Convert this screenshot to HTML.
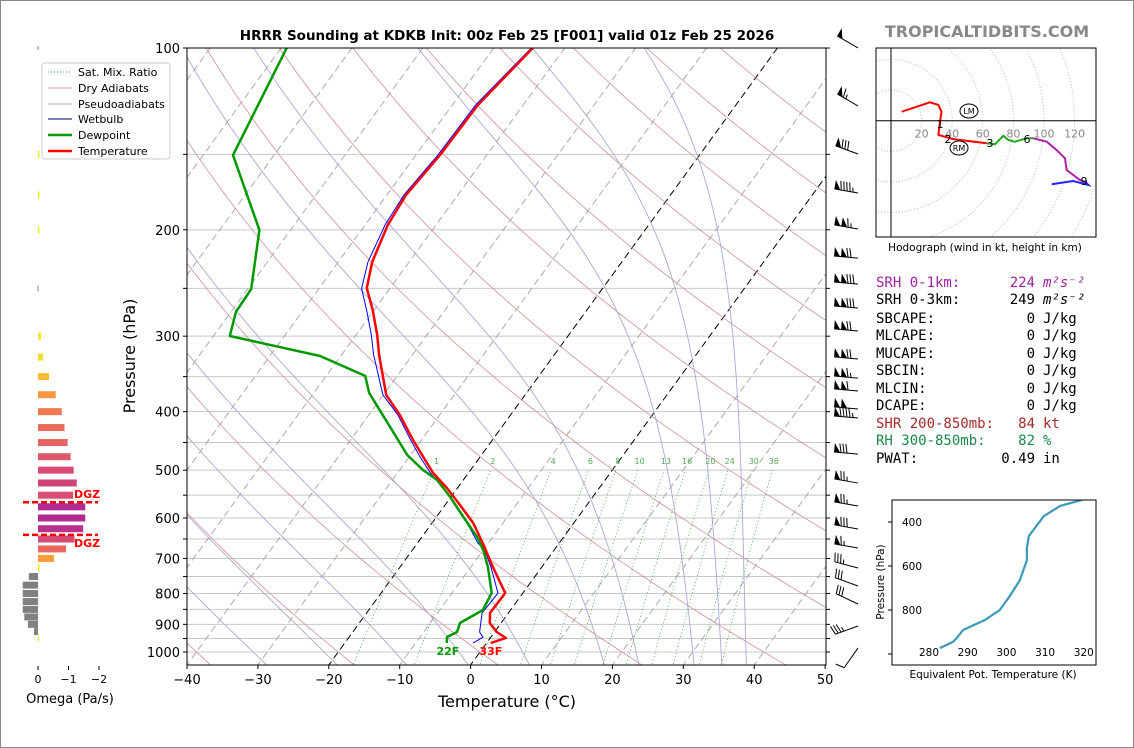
<!DOCTYPE html>
<html><head><meta charset="utf-8"><style>
html,body{margin:0;padding:0;background:#fff;}
svg{display:block;font-family:"DejaVu Sans","Liberation Sans",sans-serif;}
.mono{font-family:"DejaVu Sans Mono","Liberation Mono",monospace;font-size:14px;}
</style></head><body>
<svg id="fig" width="1134" height="748" viewBox="0 0 1134 748" xmlns="http://www.w3.org/2000/svg">
<rect x="0.5" y="0.5" width="1133" height="747" fill="#fff" stroke="#888"/>
<defs>
<clipPath id="mainclip"><rect x="187" y="48" width="639" height="617"/></clipPath>
<clipPath id="hodoclip"><rect x="876" y="48" width="220" height="189"/></clipPath>
<clipPath id="teclip"><rect x="892" y="500" width="204" height="165"/></clipPath>
</defs>
<text x="507" y="40" text-anchor="middle" font-size="13.5" font-weight="bold">HRRR Sounding at KDKB Init: 00z Feb 25 [F001] valid 01z Feb 25 2026</text>
<text x="987" y="37" text-anchor="middle" font-size="16" font-weight="bold" fill="#888">TROPICALTIDBITS.COM</text>
<g id="bg" clip-path="url(#mainclip)"></g>
<g id="prof" clip-path="url(#mainclip)"></g>
<g id="axes"></g>
<g id="barbs"></g>
<g id="omega"></g>
<g id="hodo"></g>
<g id="te"></g>
<g>
<rect x="42" y="63" width="128" height="96" rx="3" fill="#fff" stroke="#ccc"/>
<line x1="48" y1="72" x2="72" y2="72" stroke="#3a3" stroke-dasharray="1,2"/>
<text x="78" y="76" font-size="11">Sat. Mix. Ratio</text>
<line x1="48" y1="88" x2="72" y2="88" stroke="#c99"/>
<text x="78" y="92" font-size="11">Dry Adiabats</text>
<line x1="48" y1="104" x2="72" y2="104" stroke="#aab"/>
<text x="78" y="108" font-size="11">Pseudoadiabats</text>
<line x1="48" y1="119" x2="72" y2="119" stroke="#000080"/>
<text x="78" y="123" font-size="11">Wetbulb</text>
<line x1="48" y1="135" x2="72" y2="135" stroke="#090" stroke-width="2.5"/>
<text x="78" y="139" font-size="11">Dewpoint</text>
<line x1="48" y1="151" x2="72" y2="151" stroke="red" stroke-width="2.5"/>
<text x="78" y="155" font-size="11">Temperature</text>
</g>
<g class="mono">
<text x="876" y="287" fill="#a020a0">SRH 0-1km:</text><text x="1035" y="287" text-anchor="end" fill="#a020a0">224</text><text x="1043" y="287" fill="#a020a0" font-style="italic">m²s⁻²</text>
<text x="876" y="304">SRH 0-3km:</text><text x="1035" y="304" text-anchor="end">249</text><text x="1043" y="304" font-style="italic">m²s⁻²</text>
<text x="876" y="323">SBCAPE:</text><text x="1035" y="323" text-anchor="end">0</text><text x="1043" y="323">J/kg</text>
<text x="876" y="340">MLCAPE:</text><text x="1035" y="340" text-anchor="end">0</text><text x="1043" y="340">J/kg</text>
<text x="876" y="358">MUCAPE:</text><text x="1035" y="358" text-anchor="end">0</text><text x="1043" y="358">J/kg</text>
<text x="876" y="375">SBCIN:</text><text x="1035" y="375" text-anchor="end">0</text><text x="1043" y="375">J/kg</text>
<text x="876" y="393">MLCIN:</text><text x="1035" y="393" text-anchor="end">0</text><text x="1043" y="393">J/kg</text>
<text x="876" y="410">DCAPE:</text><text x="1035" y="410" text-anchor="end">0</text><text x="1043" y="410">J/kg</text>
<text x="876" y="428" fill="#a52a2a">SHR 200-850mb:</text><text x="1035" y="428" text-anchor="end" fill="#a52a2a">84</text><text x="1043" y="428" fill="#a52a2a">kt</text>
<text x="876" y="445" fill="#1a8a4a">RH 300-850mb:</text><text x="1035" y="445" text-anchor="end" fill="#1a8a4a">82</text><text x="1043" y="445" fill="#1a8a4a">%</text>
<text x="876" y="463">PWAT:</text><text x="1035" y="463" text-anchor="end">0.49</text><text x="1043" y="463">in</text>
</g>
</svg>
<script>
// ---------- data ----------
var tempP=[100,124.3,150.4,175.1,196.4,226.1,249.7,271.6,298.7,322.3,375.3,405.3,445.7,475.5,505.2,535.1,571,611.5,660,723.3,798.6,861.9,895.5,926.7,948,966.3];
var tempT=[-54.5,-56.4,-56.6,-57.3,-56.8,-55.2,-53.3,-50.2,-47.0,-44.7,-39.6,-35.6,-31.2,-28.0,-25.0,-21.5,-17.9,-14.2,-10.8,-6.9,-2.5,-2.6,-1.6,0.3,2.2,0.6];
var dewP=[100,150.4,200.1,250.6,273.6,299.8,323.6,349.1,372.5,445.7,471.8,499.7,519,553.9,597.6,645.1,678,723.3,798.6,852.2,895.5,926.7,944.5,966.3];
var dewT=[-89.2,-85.8,-74.4,-69.5,-69.3,-67.7,-52.9,-44.5,-42.2,-33.3,-30.5,-26.7,-23.7,-20.1,-16.2,-12.2,-10.0,-7.6,-4.4,-3.9,-5.8,-5.3,-6.2,-5.6];
var wbP=[100,124,150,175,196,226,250,272,299,322,375,405,446,476,505,535,571,612,660,678,723,799,862,927,945,966];
var wbT=[-54.7,-56.7,-56.9,-57.6,-57.2,-55.8,-54.0,-51.0,-47.8,-45.5,-40.1,-35.9,-31.5,-28.4,-25.4,-22.0,-18.6,-15.0,-11.5,-9.8,-7.2,-3.5,-3.7,-2.1,-1.1,-1.9];
var omegaP=[300,325,350,375,400,425,450,475,500,525,550,575,600,625,650,675,700,725,750,775,800,825,850,875,900,925,950];
var omegaV=[-0.1,-0.16,-0.36,-0.58,-0.78,-0.87,-0.97,-1.07,-1.17,-1.27,-1.15,-1.55,-1.55,-1.48,-1.2,-0.92,-0.52,-0.05,0.3,0.5,0.5,0.5,0.5,0.45,0.33,0.13,-0.02];
var omegaSmallP=[150,175,200];
var omegaSmallV=[-0.05,-0.05,-0.05];
var barbP=[97.7,121.9,146.4,169.9,194.9,217.7,240.4,263.4,287.5,319.9,344,361.4,387,400.6,459.6,513.3,560.3,611.5,657.6,709.6,760,813.9,885.1,962.5];
var barbSpd=[50,65,80,95,115,120,130,130,120,120,115,110,100,95,80,75,75,80,65,35,30,30,35,10];
var barbDir=[300,300,290,280,280,275,275,275,275,275,275,275,275,275,275,280,280,280,280,285,290,295,250,215];
var hodoRedU=[7,25.5,31,33,32,31,40.7,62.5], hodoRedV=[5.9,12,10.3,5.9,-0.7,-9.3,-12,-14.8];
var hodoGreenU=[62.5,68,73.4,76.7,81,88.7,93], hodoGreenV=[-14.8,-15.4,-9.8,-12.6,-13.7,-11.5,-11.5];
var hodoPurpleU=[93,101.8,108.3,113.7,114.8,123.5,127], hodoPurpleV=[-11.5,-13.7,-19.2,-24.6,-32.2,-38.8,-40];
var hodoBlueU=[127,129,119,105], hodoBlueV=[-40,-42,-39.4,-41.6];
var teP=[300,327,373,464,518,573,664,736,800,845,891,927,945,973];
var teK=[319.5,313.9,309.7,305.8,305.3,305.3,303.5,300.9,298.3,294.5,288.8,287.2,286.2,282.8];
var pTicks=[100,200,300,400,500,600,700,800,900,1000];
var tTicks=[-40,-30,-20,-10,0,10,20,30,40,50];
var mixRatios=[1,2,4,6,8,10,13,16,20,24,30,36];
var moistStarts=[-32,-22,-12,-3,6,17,22,30,34,37.5];
var dryStartsC=[-100,-80,-60,-40,-20,0,20,40,60,80,100,120,140,160,180,200];
var omegaTicks=[0,-1,-2];
var teXTicks=[280,290,300,310,320];
var teYTicks=[400,600,800];
var hodoRings=[20,40,60,80,100,120];

// ---------- helpers ----------
var NS="http://www.w3.org/2000/svg";
function mk(tag,attrs,parent){var e=document.createElementNS(NS,tag);for(var k in attrs)e.setAttribute(k,attrs[k]);parent.appendChild(e);return e;}
function yP(p){return 48+604*Math.log10(p/100);}
function xT(T,p){return 187+(T+40)*7.09+0.727*(665-yP(p));}
function pathFrom(ps,ts){var d="";for(var i=0;i<ps.length;i++){d+=(i?"L":"M")+xT(ts[i],ps[i]).toFixed(1)+","+yP(ps[i]).toFixed(1);}return d;}
var bg=document.getElementById('bg'),prof=document.getElementById('prof'),ax=document.getElementById('axes');

for(var p=100;p<=1000;p+=50){var l=mk('line',{x1:187,x2:826,y1:yP(p),y2:yP(p),stroke:'#c8c8c8','stroke-width':1},bg);

}
for(var T=-130;T<=50;T+=10){var blk=(T==0||T==-20);var l=mk('line',{x1:xT(T,1060),y1:yP(1060),x2:xT(T,90),y2:yP(90),stroke:blk?'#000':'#aaa','stroke-width':1,'stroke-dasharray':'7,4'},bg);

}
dryStartsC.forEach(function(tc){var th=tc+273.15;var d="";for(var p=1060;p>=90;p-=10){var t=th*Math.pow(p/1000,0.2857)-273.15;d+=(p==1060?"M":"L")+xT(t,p).toFixed(1)+","+yP(p).toFixed(1);}
var l=mk('path',{d:d,fill:'none',stroke:'#d49090','stroke-width':0.8},bg);

});
function es(t){return 6.112*Math.exp(17.67*t/(t+243.5));}
function moist(t0){var T=t0+273.15;var up=[],dn=[];
 function step(T,p,dp){var rs=0.622*es(T-273.15)/(p-es(T-273.15));var num=287*T+2.5e6*rs;var den=1005+2.5e6*2.5e6*rs*0.622/(287*T*T);return T+dp*(num/den)/p;}
 var Tc=T;for(var pp=1000;pp>=100;pp-=5){up.push([pp,Tc-273.15]);Tc=step(Tc,pp,-5);}
 Tc=T;for(var pp=1005;pp<=1060;pp+=5){Tc=step(Tc,pp-5,5);dn.unshift([pp,Tc-273.15]);}
 return dn.concat(up);}
moistStarts.forEach(function(t0){var a=moist(t0);var d="";a.forEach(function(q,i){d+=(i?"L":"M")+xT(q[1],q[0]).toFixed(1)+","+yP(q[0]).toFixed(1);});
var l=mk('path',{d:d,fill:'none',stroke:'#a8a8dc','stroke-width':0.9},bg);

});
mixRatios.forEach(function(w){var d="";var first=true;for(var p=1060;p>=500;p-=10){var e=w*p/(622+w);var lg=Math.log(e/6.112);var td=243.5*lg/(17.67-lg);d+=(first?"M":"L")+xT(td,p).toFixed(1)+","+yP(p).toFixed(1);first=false;}
var l=mk('path',{d:d,fill:'none',stroke:'#3a3','stroke-width':0.8,'stroke-dasharray':'1,2.5'},bg);


var e=w*490/(622+w);var lg=Math.log(e/6.112);var td=243.5*lg/(17.67-lg);
var t=mk('text',{x:xT(td,490),y:yP(490)-1,'font-size':8,fill:'#5a5','text-anchor':'middle'},bg);t.textContent=w;

});
var wb=mk('path',{d:pathFrom(wbP,wbT),fill:'none',stroke:'#0000ff','stroke-width':1},prof);


var dw=mk('path',{d:pathFrom(dewP,dewT),fill:'none',stroke:'#009900','stroke-width':2.5,'stroke-linejoin':'round'},prof);


var tp=mk('path',{d:pathFrom(tempP,tempT),fill:'none',stroke:'#ff0000','stroke-width':2.5,'stroke-linejoin':'round'},prof);


var sfT=tempT[tempT.length-1],sfD=dewT[dewT.length-1],sfp=tempP[tempP.length-1];
var t=mk('text',{x:xT(sfT,sfp),y:655,'font-size':11,'font-weight':'bold',fill:'red','text-anchor':'middle'},ax);t.textContent=Math.round(sfT*9/5+32)+"F";


var t=mk('text',{x:xT(sfD,dewP[dewP.length-1])+1,y:655,'font-size':11,'font-weight':'bold',fill:'#009900','text-anchor':'middle'},ax);t.textContent=Math.round(sfD*9/5+32)+"F";


mk('rect',{x:187,y:48,width:639,height:617,fill:'none',stroke:'#000','stroke-width':1},ax);
for(var p=100;p<=1000;p+=50){mk('line',{x1:183,x2:187,y1:yP(p),y2:yP(p),stroke:'#000'},ax);mk('line',{x1:826,x2:830,y1:yP(p),y2:yP(p),stroke:'#000'},ax);}
pTicks.forEach(function(p){var t=mk('text',{x:180,y:yP(p)+5,'font-size':13,'text-anchor':'end'},ax);t.textContent=p;

});
tTicks.forEach(function(T){var x=187+(T+40)*7.09;mk('line',{x1:x,x2:x,y1:665,y2:669,stroke:'#000'},ax);var t=mk('text',{x:x,y:684,'font-size':13,'text-anchor':'middle'},ax);t.textContent=(T<0?"\u2212"+(-T):T);

});
var t=mk('text',{x:507,y:707,'font-size':16,'text-anchor':'middle'},ax);t.textContent="Temperature (\u00b0C)";


var t=mk('text',{x:0,y:0,'font-size':16,'text-anchor':'middle',transform:'translate(135,356) rotate(-90)'},ax);t.textContent="Pressure (hPa)";


var bb=document.getElementById('barbs');
function barb(p,spd,dir){var g=mk('g',{},bb);


var r=dir*Math.PI/180;var ux=Math.sin(r),uy=-Math.cos(r);var px=-uy,py=ux;if(py>0){px=-px;py=-py;}
var bx=858,by=yP(p)+6,L=24;var tx=bx+ux*L,ty=by+uy*L;
mk('line',{x1:bx,y1:by,x2:tx,y2:ty,stroke:'#000','stroke-width':1},g);
var rem=Math.round(spd/5)*5,pos=0;
function P(d){return [tx-ux*d,ty-uy*d];}
while(rem>=50){var a=P(pos),b=P(pos+6);mk('polygon',{points:a[0]+","+a[1]+" "+b[0]+","+b[1]+" "+(a[0]+px*9)+","+(a[1]+py*9),fill:'#000'},g);pos+=7;rem-=50;}
while(rem>=10){var a=P(pos);mk('line',{x1:a[0],y1:a[1],x2:a[0]+px*9+ux*2,y2:a[1]+py*9+uy*2,stroke:'#000'},g);pos+=3;rem-=10;}
if(rem>=5){if(pos==0)pos=3;var a=P(pos);mk('line',{x1:a[0],y1:a[1],x2:a[0]+px*4.5+ux,y2:a[1]+py*4.5+uy,stroke:'#000'},g);}}
for(var i=0;i<barbP.length;i++)barb(barbP[i],barbSpd[i],barbDir[i]);
var om=document.getElementById('omega');
function xOm(v){return 38-v*30.5;}
function omColor(v){if(v>0)return '#808080';var f=Math.min(1,-v/1.55);var st=[[0,[240,249,33]],[0.3,[252,166,54]],[0.55,[237,110,90]],[0.8,[210,70,120]],[1,[177,42,144]]];
for(var i=1;i<st.length;i++){if(f<=st[i][0]){var a=st[i-1],b=st[i];var k=(f-a[0])/(b[0]-a[0]);var c=a[1].map(function(x,j){return Math.round(x+(b[1][j]-x)*k);});return 'rgb('+c.join(',')+')';}}return 'rgb(177,42,144)';}
function omBar(p,v){var x0=xOm(0),x1=xOm(v);var r=mk('rect',{x:Math.min(x0,x1),y:yP(p)-3.5,width:Math.max(1,Math.abs(x1-x0)),height:7,fill:omColor(v)},om);

}
for(var i=0;i<omegaP.length;i++)omBar(omegaP[i],omegaV[i]);
for(var i=0;i<omegaSmallP.length;i++)omBar(omegaSmallP[i],omegaSmallV[i]);
mk('line',{x1:38,x2:38,y1:yP(100)-2,y2:yP(100)+2,stroke:'#888'},om);mk('line',{x1:38,x2:38,y1:yP(250)-3,y2:yP(250)+3,stroke:'#888'},om);
[565,640].forEach(function(p){mk('line',{x1:23,x2:98,y1:yP(p),y2:yP(p),stroke:'red','stroke-width':2.5,'stroke-dasharray':'6,3'},om);});
var t=mk('text',{x:74,y:yP(565)-4,'font-size':11,'font-weight':'bold',fill:'red'},om);t.textContent="DGZ";


var t=mk('text',{x:74,y:yP(640)+12,'font-size':11,'font-weight':'bold',fill:'red'},om);t.textContent="DGZ";


omegaTicks.forEach(function(v){var x=xOm(v);mk('line',{x1:x,x2:x,y1:666,y2:670,stroke:'#000'},om);var t=mk('text',{x:x,y:683,'font-size':11,'text-anchor':'middle'},om);t.textContent=v==0?"0":"\u2212"+(-v);

});
var t=mk('text',{x:70,y:703,'font-size':13,'text-anchor':'middle'},om);t.textContent="Omega (Pa/s)";


var ho=document.getElementById('hodo');var HX=891,HY=120.7,HS=1.53;
var hg=mk('g',{'clip-path':'url(#hodoclip)'},ho);
[20,40,60,80,100,120,140,160].forEach(function(r){mk('circle',{cx:HX,cy:HY,r:r*HS,fill:'none',stroke:'#bbb','stroke-dasharray':'1,2'},hg);});
mk('line',{x1:876,x2:1096,y1:HY,y2:HY,stroke:'#000'},hg);mk('line',{x1:HX,x2:HX,y1:48,y2:237,stroke:'#000'},hg);
hodoRings.forEach(function(r){var t=mk('text',{x:HX+r*HS,y:HY+17,'font-size':11,fill:'#888','text-anchor':'middle'},hg);t.textContent=r;

});
function hline(U,V,c,nm){var d="";for(var i=0;i<U.length;i++)d+=(i?"L":"M")+(HX+U[i]*HS).toFixed(1)+","+(HY-V[i]*HS).toFixed(1);var e=mk('path',{d:d,fill:'none',stroke:c,'stroke-width':2},hg);

}
hline(hodoRedU,hodoRedV,'red','hodo-0-3km');hline(hodoGreenU,hodoGreenV,'#2a2','hodo-3-6km');hline(hodoPurpleU,hodoPurpleV,'#b020b0','hodo-6-9km');hline(hodoBlueU,hodoBlueV,'#22f','hodo-9-12km');
[["1",940,128],["2",948,143],["3",990,147],["6",1027,143],["9",1084,185]].forEach(function(a){var t=mk('text',{x:a[1],y:a[2],'font-size':11,'text-anchor':'middle'},hg);t.textContent=a[0];});
[["LM",969,111],["RM",959,148]].forEach(function(a){mk('ellipse',{cx:a[1],cy:a[2],rx:9,ry:7,fill:'none',stroke:'#000'},hg);var t=mk('text',{x:a[1],y:a[2]+3,'font-size':8,'text-anchor':'middle'},hg);t.textContent=a[0];});
mk('rect',{x:876,y:48,width:220,height:189,fill:'none',stroke:'#000'},ho);
var t=mk('text',{x:985,y:251,'font-size':10.5,'text-anchor':'middle'},ho);t.textContent="Hodograph (wind in kt, height in km)";


var te=document.getElementById('te');
function xK(k){return 929+(k-280)*3.87;}function yK(p){return 522+(p-400)*0.22;}
var d="";for(var i=0;i<teP.length;i++)d+=(i?"L":"M")+xK(teK[i]).toFixed(1)+","+yK(teP[i]).toFixed(1);
var tg=mk('g',{'clip-path':'url(#teclip)'},te);
var e=mk('path',{d:d,fill:'none',stroke:'#3a9ab8','stroke-width':2.2},tg);


mk('rect',{x:892,y:500,width:204,height:165,fill:'none',stroke:'#000'},te);
teXTicks.forEach(function(k){var t=mk('text',{x:xK(k),y:656,'font-size':10.5,'text-anchor':'middle'},te);t.textContent=k;

});
teYTicks.concat([1000]).forEach(function(p){mk('line',{x1:888,x2:892,y1:yK(p),y2:yK(p),stroke:'#000'},te);});
teYTicks.forEach(function(p){var t=mk('text',{x:922,y:yK(p)+4,'font-size':10.5,'text-anchor':'end'},te);t.textContent=p;

});
var t=mk('text',{x:993,y:678,'font-size':10.5,'text-anchor':'middle'},te);t.textContent="Equivalent Pot. Temperature (K)";


var t=mk('text',{x:0,y:0,'font-size':10.5,'text-anchor':'middle',transform:'translate(884,582) rotate(-90)'},te);t.textContent="Pressure (hPa)";


</script>
</body></html>
